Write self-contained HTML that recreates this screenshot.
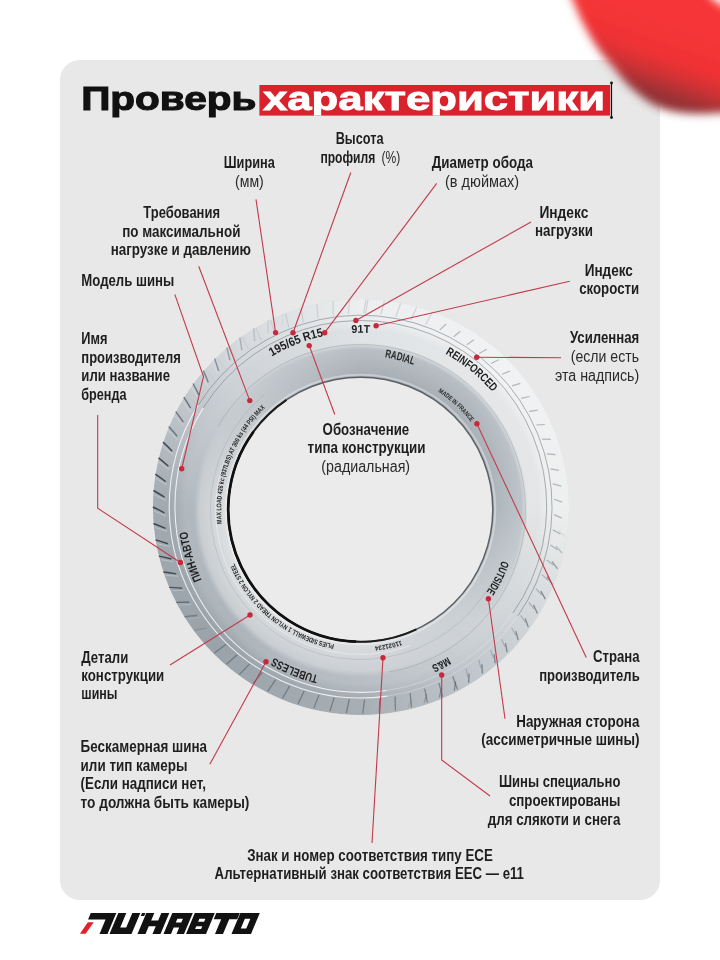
<!DOCTYPE html>
<html><head><meta charset="utf-8"><style>
html,body{margin:0;padding:0;background:#fff;}
body{width:720px;height:960px;overflow:hidden;position:relative;font-family:"Liberation Sans",sans-serif;}
.card{position:absolute;left:60px;top:60px;width:600px;height:840px;border-radius:20px;background:#e8e8e8;}
.tire{position:absolute;border-radius:50%;overflow:hidden;}
.lay{position:absolute;left:0;top:0;width:100%;height:100%;border-radius:50%;}
svg{position:absolute;left:0;top:0;will-change:transform;}
</style></head><body>
<div class="card"></div>

<div class="tire" style="left:152.75px;top:298.5px;width:416px;height:416px;background:conic-gradient(from 0deg, #e0e3e5 0deg, #e5e7e9 45deg, #e3e5e6 90deg, #cfd3d6 135deg, #b8bfc4 180deg, #adb5bb 225deg, #b1b9bf 270deg, #ced2d6 315deg, #e0e3e5 360deg)">
  <div class="lay" style="background:conic-gradient(from 0deg, #eceeef 0deg, #f1f2f3 45deg, #eeefef 90deg, #c9ced2 135deg, #a7afb5 180deg, #9aa3aa 225deg, #a1aab1 270deg, #d0d4d8 315deg, #eceeef 360deg);-webkit-mask-image:radial-gradient(circle at center, transparent 0 176px, #000 189px);mask-image:radial-gradient(circle at center, transparent 0 176px, #000 189px)"></div>
  <div class="lay" style="background:conic-gradient(from 0deg, #bcc2c7 0deg, #bbc2c7 45deg, #c0c7cc 90deg, #d0d4d7 135deg, #cbcfd3 180deg, #c6cbcf 225deg, #c8cdd1 270deg, #c6cbcf 315deg, #bcc2c7 360deg);-webkit-mask-image:radial-gradient(circle at 207.75px 211.0px, #000 0 161px, transparent 167px);mask-image:radial-gradient(circle at 207.75px 211.0px, #000 0 161px, transparent 167px)"></div>
  <div class="lay" style="background:conic-gradient(from 0deg, #a7aeb4 0deg, #a6aeb4 45deg, #adb5bb 90deg, #c8cdd1 135deg, #dadcdf 180deg, #e0e2e3 225deg, #dddfe1 270deg, #c0c5c9 315deg, #a7aeb4 360deg);-webkit-mask-image:radial-gradient(circle at 207.75px 211.0px, #000 0 134px, transparent 164px);mask-image:radial-gradient(circle at 207.75px 211.0px, #000 0 134px, transparent 164px)"></div>
</div>
<svg width="720" height="960" viewBox="0 0 720 960"><defs><filter id="blob2" x="-50%" y="-50%" width="200%" height="200%"><feGaussianBlur stdDeviation="4"/></filter><linearGradient id="bg2" gradientUnits="userSpaceOnUse" x1="675" y1="25" x2="650" y2="95"><stop offset="0" stop-color="#f53637"/><stop offset="0.45" stop-color="#ef3234"/><stop offset="0.7" stop-color="#cd3034"/><stop offset="0.9" stop-color="#a23236"/><stop offset="1" stop-color="#913437"/></linearGradient></defs><g filter="url(#blob2)"><path d="M560 -30 C551.0 -24.2 563.9 -20.0 566 -15 C568.1 -10.0 570.5 -5.3 572.8 0 C575.1 5.3 577.1 11.0 580 17 C582.9 23.0 586.5 30.0 590 36 C593.5 42.0 597.2 47.8 601 53 C604.8 58.2 608.7 61.8 613 67 C617.3 72.2 621.2 78.2 627 84 C632.8 89.8 641.3 97.2 648 101.5 C654.7 105.8 660.0 108.0 667 110 C674.0 112.0 681.2 113.0 690 113.5 C698.8 114.0 710.0 113.8 720 113 C730.0 112.2 740.8 114.5 750 109 C759.2 103.5 771.7 91.5 775 80 C778.3 68.5 775.0 49.7 770 40 C765.0 30.3 753.3 28.0 745 22 C736.7 16.0 725.3 7.7 720 4 C714.7 0.3 718.0 4.8 713 0 C708.0 -4.8 705.5 -16.7 690 -25 C674.5 -33.3 641.7 -49.2 620 -50 C598.3 -50.8 569.0 -35.8 560 -30 Z" fill="url(#bg2)"/></g></svg>
<svg width="720" height="960" viewBox="0 0 720 960" font-family="Liberation Sans, sans-serif">
<defs><path id="tp1" d="M424.70 668.86 A174.5 174.5 0 1 1 296.80 344.14 A174.5 174.5 0 1 1 424.70 668.86"/><path id="tp2" d="M360.75 680.20 A173.7 173.7 0 1 1 360.75 332.80 A173.7 173.7 0 1 1 360.75 680.20"/><path id="tp3" d="M322.18 652.49 A151 151 0 1 1 399.32 360.51 A151 151 0 1 1 322.18 652.49"/><path id="tp4" d="M250.93 642.11 A174.5 174.5 0 1 1 470.57 370.89 A174.5 174.5 0 1 1 250.93 642.11"/><path id="tp5" d="M265.24 613.46 A141 141 0 1 1 455.76 405.54 A141 141 0 1 1 265.24 613.46"/><path id="tp6" d="M225.81 442.35 A150.5 150.5 0 1 1 495.19 576.65 A150.5 150.5 0 1 1 225.81 442.35"/><path id="tp7" d="M281.76 351.46 A174 174 0 1 1 439.74 661.54 A174 174 0 1 1 281.76 351.46"/><path id="tp8" d="M426.01 344.98 A174.2 174.2 0 1 1 295.49 668.02 A174.2 174.2 0 1 1 426.01 344.98"/><path id="tp9" d="M528.54 456.80 A175 175 0 1 1 192.96 556.20 A175 175 0 1 1 528.54 456.80"/><path id="tp10" d="M490.98 558.28 A139.3 139.3 0 1 1 230.02 460.72 A139.3 139.3 0 1 1 490.98 558.28"/><path id="tp11" d="M446.91 402.80 A137.3 137.3 0 1 1 274.09 616.20 A137.3 137.3 0 1 1 446.91 402.80"/><path id="tp12" d="M332.89 375.00 A137.3 137.3 0 1 1 388.11 644.00 A137.3 137.3 0 1 1 332.89 375.00"/></defs>
<g><line x1="365.5" y1="313.6" x2="368.0" y2="299.6" stroke="#9aa2a8" stroke-width="1.2" opacity="0.35"/><line x1="380.8" y1="314.5" x2="384.4" y2="300.9" stroke="#9aa2a8" stroke-width="1.2" opacity="0.35"/><line x1="395.9" y1="316.7" x2="400.6" y2="303.4" stroke="#9aa2a8" stroke-width="1.2" opacity="0.35"/><line x1="410.9" y1="320.1" x2="416.6" y2="307.2" stroke="#9aa2a8" stroke-width="1.2" opacity="0.35"/><line x1="425.5" y1="324.7" x2="432.2" y2="312.2" stroke="#9aa2a8" stroke-width="1.2" opacity="0.35"/><line x1="439.9" y1="329.9" x2="446.1" y2="324.0" stroke="#8a9299" stroke-width="1.2" opacity="0.60"/><line x1="453.7" y1="336.8" x2="460.3" y2="331.3" stroke="#8a9299" stroke-width="1.2" opacity="0.60"/><line x1="466.8" y1="344.7" x2="473.9" y2="339.7" stroke="#8a9299" stroke-width="1.2" opacity="0.60"/><line x1="479.3" y1="353.6" x2="486.7" y2="349.2" stroke="#8a9299" stroke-width="1.2" opacity="0.60"/><line x1="491.1" y1="363.5" x2="498.8" y2="359.7" stroke="#8a9299" stroke-width="1.2" opacity="0.60"/><line x1="502.0" y1="374.3" x2="510.0" y2="371.1" stroke="#8a9299" stroke-width="1.2" opacity="0.60"/><line x1="512.1" y1="385.9" x2="520.3" y2="383.4" stroke="#8a9299" stroke-width="1.2" opacity="0.60"/><line x1="521.2" y1="398.3" x2="529.6" y2="396.5" stroke="#8a9299" stroke-width="1.2" opacity="0.60"/><line x1="529.2" y1="411.4" x2="537.7" y2="410.2" stroke="#8a9299" stroke-width="1.2" opacity="0.60"/><line x1="536.3" y1="425.0" x2="544.8" y2="424.5" stroke="#8a9299" stroke-width="1.2" opacity="0.60"/><line x1="542.2" y1="439.2" x2="550.8" y2="439.4" stroke="#8a9299" stroke-width="1.2" opacity="0.60"/><line x1="546.9" y1="453.8" x2="555.5" y2="454.7" stroke="#8a9299" stroke-width="1.2" opacity="0.60"/><line x1="550.5" y1="468.8" x2="559.0" y2="470.3" stroke="#8a9299" stroke-width="1.2" opacity="0.60"/><line x1="552.9" y1="483.9" x2="561.2" y2="486.1" stroke="#8a9299" stroke-width="1.2" opacity="0.60"/><line x1="554.1" y1="499.2" x2="562.2" y2="502.1" stroke="#8a9299" stroke-width="1.2" opacity="0.60"/><line x1="554.1" y1="514.6" x2="561.9" y2="518.1" stroke="#8a9299" stroke-width="1.2" opacity="0.60"/><line x1="552.8" y1="529.9" x2="560.4" y2="534.0" stroke="#8a9299" stroke-width="1.2" opacity="0.60"/><line x1="558.3" y1="530.6" x2="565.0" y2="536.8" stroke="#4a545c" stroke-width="1.3" opacity="0.09"/><line x1="550.4" y1="545.1" x2="557.5" y2="549.8" stroke="#8a9299" stroke-width="1.2" opacity="0.60"/><line x1="555.8" y1="546.2" x2="562.0" y2="553.0" stroke="#4a545c" stroke-width="1.3" opacity="0.28"/><line x1="546.7" y1="560.0" x2="553.5" y2="565.2" stroke="#8a9299" stroke-width="1.2" opacity="0.60"/><line x1="552.0" y1="561.5" x2="557.6" y2="568.8" stroke="#4a545c" stroke-width="1.3" opacity="0.47"/><line x1="541.9" y1="574.6" x2="548.2" y2="580.3" stroke="#8a9299" stroke-width="1.2" opacity="0.60"/><line x1="547.0" y1="576.5" x2="552.1" y2="584.2" stroke="#4a545c" stroke-width="1.3" opacity="0.59"/><line x1="535.9" y1="588.7" x2="541.8" y2="595.0" stroke="#8a9299" stroke-width="1.2" opacity="0.60"/><line x1="540.9" y1="591.1" x2="545.3" y2="599.1" stroke="#4a545c" stroke-width="1.3" opacity="0.60"/><line x1="528.8" y1="602.4" x2="534.2" y2="609.1" stroke="#8a9299" stroke-width="1.2" opacity="0.60"/><line x1="533.6" y1="605.1" x2="537.4" y2="613.5" stroke="#4a545c" stroke-width="1.3" opacity="0.60"/><line x1="520.7" y1="615.4" x2="525.5" y2="622.5" stroke="#8a9299" stroke-width="1.2" opacity="0.60"/><line x1="525.2" y1="618.5" x2="528.3" y2="627.1" stroke="#4a545c" stroke-width="1.3" opacity="0.60"/><line x1="511.6" y1="627.7" x2="515.8" y2="635.2" stroke="#8a9299" stroke-width="1.2" opacity="0.60"/><line x1="515.8" y1="631.2" x2="518.2" y2="640.1" stroke="#4a545c" stroke-width="1.3" opacity="0.60"/><line x1="501.5" y1="639.3" x2="505.1" y2="647.1" stroke="#8a9299" stroke-width="1.2" opacity="0.60"/><line x1="505.5" y1="643.1" x2="507.1" y2="652.1" stroke="#4a545c" stroke-width="1.3" opacity="0.60"/><line x1="490.5" y1="650.1" x2="493.5" y2="658.1" stroke="#8a9299" stroke-width="1.2" opacity="0.60"/><line x1="494.2" y1="654.2" x2="495.1" y2="663.3" stroke="#4a545c" stroke-width="1.3" opacity="0.60"/><line x1="478.7" y1="659.9" x2="481.0" y2="668.2" stroke="#8a9299" stroke-width="1.2" opacity="0.60"/><line x1="482.0" y1="664.3" x2="482.3" y2="673.5" stroke="#4a545c" stroke-width="1.3" opacity="0.60"/><line x1="466.1" y1="668.8" x2="467.8" y2="677.2" stroke="#8a9299" stroke-width="1.2" opacity="0.60"/><line x1="469.1" y1="673.4" x2="468.6" y2="682.6" stroke="#4a545c" stroke-width="1.3" opacity="0.60"/><line x1="452.7" y1="676.2" x2="457.5" y2="689.5" stroke="#4f5961" stroke-width="1.2" opacity="0.60"/><line x1="455.6" y1="681.5" x2="454.3" y2="690.6" stroke="#4a545c" stroke-width="1.3" opacity="0.59"/><line x1="438.9" y1="683.0" x2="442.6" y2="696.6" stroke="#4f5961" stroke-width="1.2" opacity="0.60"/><line x1="441.4" y1="688.4" x2="439.4" y2="697.4" stroke="#4a545c" stroke-width="1.3" opacity="0.49"/><line x1="424.7" y1="688.6" x2="427.3" y2="702.5" stroke="#4f5961" stroke-width="1.2" opacity="0.60"/><line x1="426.7" y1="694.3" x2="424.0" y2="703.1" stroke="#4a545c" stroke-width="1.3" opacity="0.31"/><line x1="410.1" y1="693.1" x2="411.5" y2="707.2" stroke="#4f5961" stroke-width="1.2" opacity="0.60"/><line x1="411.6" y1="698.9" x2="408.3" y2="707.5" stroke="#4a545c" stroke-width="1.3" opacity="0.14"/><line x1="395.1" y1="696.4" x2="395.4" y2="710.6" stroke="#4f5961" stroke-width="1.2" opacity="0.60"/><line x1="379.9" y1="698.5" x2="379.2" y2="712.7" stroke="#4f5961" stroke-width="1.2" opacity="0.60"/><line x1="364.6" y1="699.5" x2="362.7" y2="713.5" stroke="#4f5961" stroke-width="1.2" opacity="0.60"/><line x1="349.3" y1="699.2" x2="346.3" y2="713.0" stroke="#4f5961" stroke-width="1.2" opacity="0.60"/><line x1="334.1" y1="697.6" x2="330.0" y2="711.2" stroke="#4f5961" stroke-width="1.2" opacity="0.60"/><line x1="319.0" y1="694.9" x2="313.8" y2="708.1" stroke="#4f5961" stroke-width="1.2" opacity="0.60"/><line x1="304.2" y1="691.0" x2="298.0" y2="703.8" stroke="#4f5961" stroke-width="1.2" opacity="0.60"/><line x1="289.7" y1="685.9" x2="282.5" y2="698.2" stroke="#4f5961" stroke-width="1.2" opacity="0.60"/><line x1="275.7" y1="679.7" x2="267.6" y2="691.3" stroke="#4f5961" stroke-width="1.2" opacity="0.60"/><line x1="262.2" y1="672.5" x2="253.2" y2="683.4" stroke="#4f5961" stroke-width="1.2" opacity="0.60"/><line x1="249.4" y1="664.1" x2="239.5" y2="674.3" stroke="#4f5961" stroke-width="1.2" opacity="0.60"/><line x1="237.2" y1="654.8" x2="226.6" y2="664.1" stroke="#4f5961" stroke-width="1.2" opacity="0.60"/><line x1="225.8" y1="644.5" x2="214.5" y2="653.0" stroke="#4f5961" stroke-width="1.2" opacity="0.60"/><line x1="215.3" y1="633.4" x2="203.3" y2="640.9" stroke="#9aa2a8" stroke-width="1.2" opacity="0.33"/><path d="M193.7 630.4 Q199.6 629.1 206.4 628.2" stroke="#252d35" stroke-width="1.45" fill="none" opacity="0.15"/><line x1="196.9" y1="632.9" x2="209.5" y2="629.6" stroke="#fff" stroke-width="1" opacity="0.06"/><line x1="205.7" y1="621.4" x2="193.2" y2="628.0" stroke="#9aa2a8" stroke-width="1.2" opacity="0.28"/><path d="M184.4 616.7 Q190.3 615.9 197.3 615.5" stroke="#252d35" stroke-width="1.45" fill="none" opacity="0.32"/><line x1="187.3" y1="619.5" x2="200.2" y2="617.2" stroke="#fff" stroke-width="1" opacity="0.12"/><line x1="197.1" y1="608.8" x2="184.1" y2="614.3" stroke="#9aa2a8" stroke-width="1.2" opacity="0.21"/><path d="M176.2 602.4 Q182.2 602.0 189.1 602.2" stroke="#252d35" stroke-width="1.45" fill="none" opacity="0.50"/><line x1="178.9" y1="605.4" x2="192.0" y2="604.1" stroke="#fff" stroke-width="1" opacity="0.19"/><line x1="189.5" y1="595.5" x2="176.1" y2="600.0" stroke="#9aa2a8" stroke-width="1.2" opacity="0.13"/><path d="M169.1 587.4 Q175.2 587.6 182.1 588.3" stroke="#252d35" stroke-width="1.45" fill="none" opacity="0.66"/><line x1="171.6" y1="590.7" x2="184.7" y2="590.4" stroke="#fff" stroke-width="1" opacity="0.25"/><line x1="183.0" y1="581.6" x2="169.2" y2="585.0" stroke="#9aa2a8" stroke-width="1.2" opacity="0.06"/><path d="M163.3 572.0 Q169.3 572.6 176.2 573.9" stroke="#252d35" stroke-width="1.45" fill="none" opacity="0.77"/><line x1="165.6" y1="575.4" x2="178.6" y2="576.2" stroke="#fff" stroke-width="1" opacity="0.29"/><path d="M158.8 556.1 Q164.7 557.2 171.4 559.0" stroke="#252d35" stroke-width="1.45" fill="none" opacity="0.80"/><line x1="160.7" y1="559.7" x2="173.7" y2="561.6" stroke="#fff" stroke-width="1" opacity="0.30"/><path d="M155.5 539.9 Q161.3 541.5 167.8 543.8" stroke="#252d35" stroke-width="1.45" fill="none" opacity="0.80"/><line x1="157.1" y1="543.7" x2="169.9" y2="546.5" stroke="#fff" stroke-width="1" opacity="0.30"/><path d="M153.4 523.5 Q159.1 525.6 165.5 528.4" stroke="#252d35" stroke-width="1.45" fill="none" opacity="0.80"/><line x1="154.8" y1="527.4" x2="167.3" y2="531.3" stroke="#fff" stroke-width="1" opacity="0.30"/><path d="M152.8 507.0 Q158.3 509.5 164.4 512.8" stroke="#252d35" stroke-width="1.45" fill="none" opacity="0.80"/><line x1="153.8" y1="511.0" x2="166.0" y2="515.9" stroke="#fff" stroke-width="1" opacity="0.30"/><path d="M153.4 490.5 Q158.7 493.4 164.5 497.2" stroke="#252d35" stroke-width="1.45" fill="none" opacity="0.80"/><line x1="154.1" y1="494.6" x2="165.8" y2="500.4" stroke="#fff" stroke-width="1" opacity="0.30"/><path d="M155.3 474.1 Q160.3 477.4 165.8 481.7" stroke="#252d35" stroke-width="1.45" fill="none" opacity="0.80"/><line x1="155.7" y1="478.2" x2="166.9" y2="484.9" stroke="#fff" stroke-width="1" opacity="0.30"/><path d="M158.5 457.9 Q163.3 461.6 168.4 466.3" stroke="#252d35" stroke-width="1.45" fill="none" opacity="0.80"/><line x1="158.6" y1="462.0" x2="169.3" y2="469.6" stroke="#fff" stroke-width="1" opacity="0.30"/><path d="M163.0 442.1 Q167.5 446.1 172.2 451.2" stroke="#252d35" stroke-width="1.45" fill="none" opacity="0.80"/><line x1="162.7" y1="446.2" x2="172.8" y2="454.6" stroke="#fff" stroke-width="1" opacity="0.30"/><path d="M168.7 426.6 Q172.9 431.0 177.2 436.4" stroke="#55606a" stroke-width="1.45" fill="none" opacity="0.80"/><line x1="168.2" y1="430.6" x2="177.5" y2="439.8" stroke="#fff" stroke-width="1" opacity="0.30"/><path d="M175.7 411.6 Q179.4 416.3 183.3 422.1" stroke="#55606a" stroke-width="1.45" fill="none" opacity="0.80"/><line x1="174.8" y1="415.6" x2="183.4" y2="425.5" stroke="#fff" stroke-width="1" opacity="0.30"/><path d="M183.8 397.2 Q187.2 402.2 190.6 408.2" stroke="#55606a" stroke-width="1.45" fill="none" opacity="0.80"/><line x1="182.6" y1="401.1" x2="190.4" y2="411.7" stroke="#fff" stroke-width="1" opacity="0.30"/><path d="M193.0 383.5 Q196.0 388.8 198.9 395.1" stroke="#55606a" stroke-width="1.45" fill="none" opacity="0.76"/><line x1="191.5" y1="387.3" x2="198.4" y2="398.4" stroke="#fff" stroke-width="1" opacity="0.28"/><line x1="205.1" y1="392.4" x2="195.1" y2="382.4" stroke="#9aa2a8" stroke-width="1.2" opacity="0.02"/><path d="M203.3 370.6 Q205.9 376.1 208.3 382.6" stroke="#55606a" stroke-width="1.45" fill="none" opacity="0.68"/><line x1="201.5" y1="374.3" x2="207.5" y2="385.9" stroke="#fff" stroke-width="1" opacity="0.26"/><line x1="214.6" y1="380.4" x2="205.5" y2="369.6" stroke="#9aa2a8" stroke-width="1.2" opacity="0.05"/><path d="M214.6 358.5 Q216.7 364.2 218.6 370.9" stroke="#55606a" stroke-width="1.45" fill="none" opacity="0.58"/><line x1="212.5" y1="362.1" x2="217.6" y2="374.1" stroke="#fff" stroke-width="1" opacity="0.22"/><line x1="225.1" y1="369.2" x2="216.8" y2="357.7" stroke="#9aa2a8" stroke-width="1.2" opacity="0.09"/><path d="M226.8 347.4 Q228.4 353.2 229.8 360.0" stroke="#55606a" stroke-width="1.45" fill="none" opacity="0.47"/><line x1="224.4" y1="350.8" x2="228.5" y2="363.2" stroke="#fff" stroke-width="1" opacity="0.18"/><line x1="236.4" y1="358.9" x2="229.1" y2="346.8" stroke="#9aa2a8" stroke-width="1.2" opacity="0.14"/><path d="M239.8 337.3 Q241.0 343.2 241.8 350.1" stroke="#55606a" stroke-width="1.45" fill="none" opacity="0.35"/><line x1="237.2" y1="340.4" x2="240.3" y2="353.2" stroke="#fff" stroke-width="1" opacity="0.13"/><line x1="248.5" y1="349.5" x2="242.2" y2="336.8" stroke="#9aa2a8" stroke-width="1.2" opacity="0.20"/><path d="M253.6 328.2 Q254.3 334.2 254.6 341.1" stroke="#55606a" stroke-width="1.45" fill="none" opacity="0.23"/><line x1="250.8" y1="331.1" x2="252.8" y2="344.1" stroke="#fff" stroke-width="1" opacity="0.09"/><line x1="261.3" y1="341.1" x2="256.0" y2="328.0" stroke="#9aa2a8" stroke-width="1.2" opacity="0.25"/><path d="M268.1 320.3 Q268.3 326.3 268.0 333.2" stroke="#55606a" stroke-width="1.45" fill="none" opacity="0.13"/><line x1="265.0" y1="323.0" x2="266.1" y2="336.0" stroke="#fff" stroke-width="1" opacity="0.05"/><line x1="274.8" y1="333.7" x2="270.5" y2="320.2" stroke="#9aa2a8" stroke-width="1.2" opacity="0.29"/><path d="M283.2 313.5 Q282.9 319.5 282.1 326.4" stroke="#55606a" stroke-width="1.45" fill="none" opacity="0.05"/><line x1="279.9" y1="316.0" x2="279.9" y2="329.1" stroke="#fff" stroke-width="1" opacity="0.02"/><line x1="288.8" y1="327.4" x2="285.6" y2="313.6" stroke="#9aa2a8" stroke-width="1.2" opacity="0.33"/><line x1="303.2" y1="322.3" x2="301.1" y2="308.3" stroke="#9aa2a8" stroke-width="1.2" opacity="0.35"/><line x1="318.0" y1="318.3" x2="317.0" y2="304.2" stroke="#9aa2a8" stroke-width="1.2" opacity="0.35"/><line x1="333.1" y1="315.5" x2="333.2" y2="301.3" stroke="#9aa2a8" stroke-width="1.2" opacity="0.35"/><line x1="348.3" y1="313.9" x2="349.6" y2="299.8" stroke="#9aa2a8" stroke-width="1.2" opacity="0.35"/><line x1="363.6" y1="313.5" x2="366.0" y2="299.6" stroke="#9aa2a8" stroke-width="1.2" opacity="0.35"/></g>
<path d="M387.4 696.1 A191.5 191.5 0 0 1 198.3 405.0" fill="none" stroke="#ffffff" stroke-width="1.1" opacity="0.8"/>
<path d="M198.3 405.0 A191.5 191.5 0 1 1 517.6 616.3" fill="none" stroke="#7d858c" stroke-width="0.9" opacity="0.7"/>
<path d="M517.6 616.3 A191.5 191.5 0 0 1 387.4 696.1" fill="none" stroke="#ffffff" stroke-width="0.9" opacity="0.3"/>
<path d="M386.6 690.5 A185.8 185.8 0 0 1 203.2 408.0" fill="none" stroke="#ffffff" stroke-width="1.1" opacity="0.8"/>
<path d="M203.2 408.0 A185.8 185.8 0 1 1 512.9 613.1" fill="none" stroke="#7d858c" stroke-width="0.9" opacity="0.7"/>
<path d="M512.9 613.1 A185.8 185.8 0 0 1 386.6 690.5" fill="none" stroke="#ffffff" stroke-width="0.9" opacity="0.3"/>
<path d="M217.6 427.0 A165 165 0 1 1 389.2 672.0" fill="none" stroke="#8e969c" stroke-width="0.8" opacity="0.5"/>
<path d="M490.4 584.5 A150 150 0 1 1 264.1 394.6" fill="none" stroke="#8e969c" stroke-width="0.8" opacity="0.35"/>
<path d="M410.1 645.8 A145 145 0 0 1 224.2 459.9" fill="none" stroke="#ffffff" stroke-width="0.8" opacity="0.5"/>
<circle cx="360.5" cy="509.5" r="134.8" fill="none" stroke="#ffffff" stroke-width="2" opacity="0.35"/>
<circle cx="360.5" cy="509.5" r="132.3" fill="#ebebeb" stroke="#5a6065" stroke-width="1.5"/>
<path d="M416.4 629.4 A132.3 132.3 0 0 1 286.5 399.8" fill="none" stroke="#1c1c1c" stroke-width="2.0" opacity="1"/>
<path d="M355.9 641.7 A132.3 132.3 0 0 1 253.5 431.7" fill="none" stroke="#111" stroke-width="2.7" opacity="1"/>
<text font-size="12.2" font-weight="bold" fill="#1e1e1e"><textPath href="#tp1" startOffset="50%" text-anchor="middle" textLength="56" lengthAdjust="spacingAndGlyphs">195/65 R15</textPath></text>
<text font-size="11.2" font-weight="bold" fill="#1e1e1e"><textPath href="#tp2" startOffset="50%" text-anchor="middle" textLength="18.5" lengthAdjust="spacingAndGlyphs">91T</textPath></text>
<text font-size="11.5" font-weight="bold" fill="#2a2a2a"><textPath href="#tp3" startOffset="50%" text-anchor="middle" textLength="30" lengthAdjust="spacingAndGlyphs">RADIAL</textPath></text>
<text font-size="11.8" font-weight="bold" fill="#1e1e1e"><textPath href="#tp4" startOffset="50%" text-anchor="middle" textLength="61" lengthAdjust="spacingAndGlyphs">REINFORCED</textPath></text>
<text font-size="6.6" font-weight="bold" fill="#2a2a2a"><textPath href="#tp5" startOffset="50%" text-anchor="middle" textLength="45" lengthAdjust="spacingAndGlyphs">MADE IN FRANCE</textPath></text>
<text font-size="11.2" font-weight="bold" fill="#1e1e1e"><textPath href="#tp6" startOffset="50%" text-anchor="middle" textLength="35" lengthAdjust="spacingAndGlyphs">OUTSIDE</textPath></text>
<text font-size="11.2" font-weight="bold" fill="#1e1e1e"><textPath href="#tp7" startOffset="50%" text-anchor="middle" textLength="19" lengthAdjust="spacingAndGlyphs">M&amp;S</textPath></text>
<text font-size="11.8" font-weight="bold" fill="#1e1e1e"><textPath href="#tp8" startOffset="50%" text-anchor="middle" textLength="48" lengthAdjust="spacingAndGlyphs">TUBELESS</textPath></text>
<text font-size="11.8" font-weight="bold" fill="#1e1e1e"><textPath href="#tp9" startOffset="50%" text-anchor="middle" textLength="51" lengthAdjust="spacingAndGlyphs">ПИН-АВТО</textPath></text>
<text font-size="6.8" font-weight="bold" fill="#1e1e1e"><textPath href="#tp10" startOffset="50%" text-anchor="middle" textLength="128" lengthAdjust="spacingAndGlyphs">MAX LOAD 426 kc (937LBS) AT 300 ks (44 PSI) MAX</textPath></text>
<text font-size="6.8" font-weight="bold" fill="#1e1e1e"><textPath href="#tp11" startOffset="50%" text-anchor="middle" textLength="134" lengthAdjust="spacingAndGlyphs">PLIES SIDEWALL 1 NYLON TREAD 2 NYLON 2 STEEL</textPath></text>
<text font-size="6.6" font-weight="bold" fill="#1e1e1e"><textPath href="#tp12" startOffset="50%" text-anchor="middle" textLength="27" lengthAdjust="spacingAndGlyphs">11021234</textPath></text>
<path fill="#121212" d="M88.05 919.60 L113.55 919.60 L116.32 913.00 L90.82 913.00 Z M99.50 934.00 L107.50 934.00 L113.55 919.60 L105.55 919.60 Z M109.50 934.00 L117.50 934.00 L126.32 913.00 L118.32 913.00 Z M109.50 934.00 L131.50 934.00 L134.19 927.60 L112.19 927.60 Z M123.50 934.00 L131.50 934.00 L140.32 913.00 L132.32 913.00 Z M140.76 916.00 L144.16 916.00 L145.42 913.00 L142.02 913.00 Z M137.50 934.00 L145.50 934.00 L154.32 913.00 L146.32 913.00 Z M148.28 926.20 L156.28 926.20 L158.63 920.60 L150.63 920.60 Z M152.50 934.00 L160.50 934.00 L169.32 913.00 L161.32 913.00 Z M213.72 919.20 L237.22 919.20 L239.82 913.00 L216.32 913.00 Z M215.00 934.00 L223.00 934.00 L231.82 913.00 L223.82 913.00 Z"/>
<path fill="#121212" fill-rule="evenodd" d="M163.50 934.00 L184.00 934.00 L192.82 913.00 L172.32 913.00 Z M175.79 922.60 L181.29 922.60 L182.88 918.80 L177.38 918.80 Z M171.00 934.00 L176.50 934.00 L179.19 927.60 L173.69 927.60 Z"/>
<path fill="#121212" fill-rule="evenodd" d="M186.00 934.00 L206.00 934.00 L214.82 913.00 L194.82 913.00 Z M198.12 921.80 L204.12 921.80 L205.38 918.80 L199.38 918.80 Z M195.10 929.00 L201.10 929.00 L202.28 926.20 L196.28 926.20 Z"/>
<path fill="#121212" fill-rule="evenodd" d="M231.50 934.00 L251.00 934.00 L259.82 913.00 L240.32 913.00 Z M240.77 928.60 L246.27 928.60 L250.38 918.80 L244.88 918.80 Z"/>
<path fill="#e21f2b" d="M79.9 933.8 L85.6 933.8 L93.7 922.2 L87.8 922.2 Z"/>
<polyline points="256,199.4 275.6,332.6" fill="none" stroke="#c23a4b" stroke-width="1.1"/>
<polyline points="350.8,172.5 293,332.7" fill="none" stroke="#c23a4b" stroke-width="1.1"/>
<polyline points="436.7,183.3 324.7,332.7" fill="none" stroke="#c23a4b" stroke-width="1.1"/>
<polyline points="531,222 355.9,320.4" fill="none" stroke="#c23a4b" stroke-width="1.1"/>
<polyline points="569.7,281.25 376.1,325.7" fill="none" stroke="#c23a4b" stroke-width="1.1"/>
<polyline points="334.8,414.5 309.2,345.6" fill="none" stroke="#c23a4b" stroke-width="1.1"/>
<polyline points="198.7,266.3 249.8,400.6" fill="none" stroke="#c23a4b" stroke-width="1.1"/>
<polyline points="174.8,294.4 203.5,376.6 181.7,468.75" fill="none" stroke="#c23a4b" stroke-width="1.1"/>
<polyline points="97.7,415 97.7,508.3 180.4,562.5" fill="none" stroke="#c23a4b" stroke-width="1.1"/>
<polyline points="561,357.8 476.7,357.2" fill="none" stroke="#c23a4b" stroke-width="1.1"/>
<polyline points="586.25,657.5 476.9,423.75" fill="none" stroke="#c23a4b" stroke-width="1.1"/>
<polyline points="170,665 250,615" fill="none" stroke="#c23a4b" stroke-width="1.1"/>
<polyline points="209.8,764.3 266,661.7" fill="none" stroke="#c23a4b" stroke-width="1.1"/>
<polyline points="372,843 383,657.7" fill="none" stroke="#c23a4b" stroke-width="1.1"/>
<polyline points="505,718.75 488.4,598.75" fill="none" stroke="#c23a4b" stroke-width="1.1"/>
<polyline points="490,796 441.7,760 441.7,675" fill="none" stroke="#c23a4b" stroke-width="1.1"/>
<circle cx="275.6" cy="332.6" r="2.7" fill="#c8283a"/>
<circle cx="293" cy="332.7" r="2.7" fill="#c8283a"/>
<circle cx="324.7" cy="332.7" r="2.7" fill="#c8283a"/>
<circle cx="355.9" cy="320.4" r="2.7" fill="#c8283a"/>
<circle cx="376.1" cy="325.7" r="2.7" fill="#c8283a"/>
<circle cx="309.2" cy="345.6" r="2.7" fill="#c8283a"/>
<circle cx="249.8" cy="400.6" r="2.7" fill="#c8283a"/>
<circle cx="181.7" cy="468.75" r="2.7" fill="#c8283a"/>
<circle cx="180.4" cy="562.5" r="2.7" fill="#c8283a"/>
<circle cx="476.7" cy="357.2" r="2.7" fill="#c8283a"/>
<circle cx="476.9" cy="423.75" r="2.7" fill="#c8283a"/>
<circle cx="250" cy="615" r="2.7" fill="#c8283a"/>
<circle cx="266" cy="661.7" r="2.7" fill="#c8283a"/>
<circle cx="383" cy="657.7" r="2.7" fill="#c8283a"/>
<circle cx="488.4" cy="598.75" r="2.7" fill="#c8283a"/>
<circle cx="441.7" cy="675" r="2.7" fill="#c8283a"/>
<text x="223.75" y="167.80" font-size="15.6" font-weight="bold" fill="#1e1e1e" textLength="51.13" lengthAdjust="spacingAndGlyphs">Ширина</text>
<text x="235.00" y="186.70" font-size="15.6" font-weight="normal" fill="#2a2a2a" textLength="28.77" lengthAdjust="spacingAndGlyphs">(мм)</text>
<text x="335.70" y="144.40" font-size="15.6" font-weight="bold" fill="#1e1e1e" textLength="47.76" lengthAdjust="spacingAndGlyphs">Высота</text>
<text x="320.40" y="163.30" font-size="15.6" font-weight="bold" fill="#1e1e1e" textLength="54.89" lengthAdjust="spacingAndGlyphs">профиля</text>
<text x="381.50" y="163.30" font-size="15.6" font-weight="normal" fill="#2a2a2a" textLength="18.80" lengthAdjust="spacingAndGlyphs">(%)</text>
<text x="431.70" y="168.00" font-size="15.6" font-weight="bold" fill="#1e1e1e" textLength="101.19" lengthAdjust="spacingAndGlyphs">Диаметр обода</text>
<text x="445.00" y="186.70" font-size="15.6" font-weight="normal" fill="#2a2a2a" textLength="74.21" lengthAdjust="spacingAndGlyphs">(в дюймах)</text>
<text x="143.30" y="218.30" font-size="15.6" font-weight="bold" fill="#1e1e1e" textLength="76.70" lengthAdjust="spacingAndGlyphs">Требования</text>
<text x="122.20" y="237.20" font-size="15.6" font-weight="bold" fill="#1e1e1e" textLength="118.21" lengthAdjust="spacingAndGlyphs">по максимальной</text>
<text x="110.70" y="255.40" font-size="15.6" font-weight="bold" fill="#1e1e1e" textLength="140.30" lengthAdjust="spacingAndGlyphs">нагрузке и давлению</text>
<text x="539.40" y="217.50" font-size="15.6" font-weight="bold" fill="#1e1e1e" textLength="48.93" lengthAdjust="spacingAndGlyphs">Индекс</text>
<text x="535.00" y="236.40" font-size="15.6" font-weight="bold" fill="#1e1e1e" textLength="57.89" lengthAdjust="spacingAndGlyphs">нагрузки</text>
<text x="584.70" y="275.70" font-size="15.6" font-weight="bold" fill="#1e1e1e" textLength="48.23" lengthAdjust="spacingAndGlyphs">Индекс</text>
<text x="579.20" y="294.40" font-size="15.6" font-weight="bold" fill="#1e1e1e" textLength="59.98" lengthAdjust="spacingAndGlyphs">скорости</text>
<text x="81.30" y="285.80" font-size="15.6" font-weight="bold" fill="#1e1e1e" textLength="92.91" lengthAdjust="spacingAndGlyphs">Модель шины</text>
<text x="81.30" y="344.20" font-size="15.6" font-weight="bold" fill="#1e1e1e" textLength="26.23" lengthAdjust="spacingAndGlyphs">Имя</text>
<text x="81.30" y="363.00" font-size="15.6" font-weight="bold" fill="#1e1e1e" textLength="99.51" lengthAdjust="spacingAndGlyphs">производителя</text>
<text x="81.30" y="381.30" font-size="15.6" font-weight="bold" fill="#1e1e1e" textLength="88.70" lengthAdjust="spacingAndGlyphs">или название</text>
<text x="81.30" y="400.00" font-size="15.6" font-weight="bold" fill="#1e1e1e" textLength="45.27" lengthAdjust="spacingAndGlyphs">бренда</text>
<text x="570.00" y="343.30" font-size="15.6" font-weight="bold" fill="#1e1e1e" textLength="69.21" lengthAdjust="spacingAndGlyphs">Усиленная</text>
<text x="570.80" y="362.00" font-size="15.6" font-weight="normal" fill="#2a2a2a" textLength="68.19" lengthAdjust="spacingAndGlyphs">(если есть</text>
<text x="555.00" y="380.80" font-size="15.6" font-weight="normal" fill="#2a2a2a" textLength="84.20" lengthAdjust="spacingAndGlyphs">эта надпись)</text>
<text x="322.60" y="434.50" font-size="15.6" font-weight="bold" fill="#1e1e1e" textLength="86.63" lengthAdjust="spacingAndGlyphs">Обозначение</text>
<text x="307.60" y="453.40" font-size="15.6" font-weight="bold" fill="#1e1e1e" textLength="117.89" lengthAdjust="spacingAndGlyphs">типа конструкции</text>
<text x="321.30" y="472.00" font-size="15.6" font-weight="normal" fill="#2a2a2a" textLength="88.82" lengthAdjust="spacingAndGlyphs">(радиальная)</text>
<text x="81.30" y="662.50" font-size="15.6" font-weight="bold" fill="#1e1e1e" textLength="46.98" lengthAdjust="spacingAndGlyphs">Детали</text>
<text x="81.30" y="680.80" font-size="15.6" font-weight="bold" fill="#1e1e1e" textLength="82.92" lengthAdjust="spacingAndGlyphs">конструкции</text>
<text x="81.30" y="699.20" font-size="15.6" font-weight="bold" fill="#1e1e1e" textLength="36.22" lengthAdjust="spacingAndGlyphs">шины</text>
<text x="80.60" y="752.40" font-size="15.6" font-weight="bold" fill="#1e1e1e" textLength="126.48" lengthAdjust="spacingAndGlyphs">Бескамерная шина</text>
<text x="80.60" y="770.90" font-size="15.6" font-weight="bold" fill="#1e1e1e" textLength="106.82" lengthAdjust="spacingAndGlyphs">или тип камеры</text>
<text x="80.60" y="789.40" font-size="15.6" font-weight="bold" fill="#1e1e1e" textLength="125.31" lengthAdjust="spacingAndGlyphs">(Если надписи нет,</text>
<text x="80.60" y="807.80" font-size="15.6" font-weight="bold" fill="#1e1e1e" textLength="168.77" lengthAdjust="spacingAndGlyphs">то должна быть камеры)</text>
<text x="593.00" y="662.00" font-size="15.6" font-weight="bold" fill="#1e1e1e" textLength="46.56" lengthAdjust="spacingAndGlyphs">Страна</text>
<text x="539.20" y="680.50" font-size="15.6" font-weight="bold" fill="#1e1e1e" textLength="100.53" lengthAdjust="spacingAndGlyphs">производитель</text>
<text x="516.25" y="727.00" font-size="15.6" font-weight="bold" fill="#1e1e1e" textLength="123.12" lengthAdjust="spacingAndGlyphs">Наружная сторона</text>
<text x="481.25" y="745.00" font-size="15.6" font-weight="bold" fill="#1e1e1e" textLength="158.27" lengthAdjust="spacingAndGlyphs">(ассиметричные шины)</text>
<text x="498.90" y="787.20" font-size="15.6" font-weight="bold" fill="#1e1e1e" textLength="121.53" lengthAdjust="spacingAndGlyphs">Шины специально</text>
<text x="508.90" y="806.10" font-size="15.6" font-weight="bold" fill="#1e1e1e" textLength="111.51" lengthAdjust="spacingAndGlyphs">спроектированы</text>
<text x="487.80" y="824.60" font-size="15.6" font-weight="bold" fill="#1e1e1e" textLength="132.51" lengthAdjust="spacingAndGlyphs">для слякоти и снега</text>
<text x="247.20" y="861.00" font-size="15.6" font-weight="bold" fill="#1e1e1e" textLength="245.58" lengthAdjust="spacingAndGlyphs">Знак и номер соответствия типу ECE</text>
<text x="214.60" y="879.40" font-size="15.6" font-weight="bold" fill="#1e1e1e" textLength="309.37" lengthAdjust="spacingAndGlyphs">Альтернативный знак соответствия EEC — e11</text>
<text stroke="#111" stroke-width="1.1" x="81.20" y="109.80" font-size="34" font-weight="bold" fill="#111" textLength="175.25" lengthAdjust="spacingAndGlyphs">Проверь</text>
<rect x="259.4" y="85" width="350.8" height="30.6" fill="#d9222c"/>
<clipPath id="rbox"><rect x="259.4" y="85" width="350.8" height="30.6"/></clipPath>
<text clip-path="url(#rbox)" stroke="#fff" stroke-width="0.9" x="263.00" y="109.80" font-size="34" font-weight="bold" fill="#fff" textLength="342.10" lengthAdjust="spacingAndGlyphs">характеристики</text>
<line x1="611.5" y1="83" x2="611.5" y2="117.5" stroke="#111" stroke-width="1.2"/>
<circle cx="611.5" cy="83" r="1.4" fill="#111"/><circle cx="611.5" cy="117.5" r="1.4" fill="#111"/>
</svg>
</body></html>
